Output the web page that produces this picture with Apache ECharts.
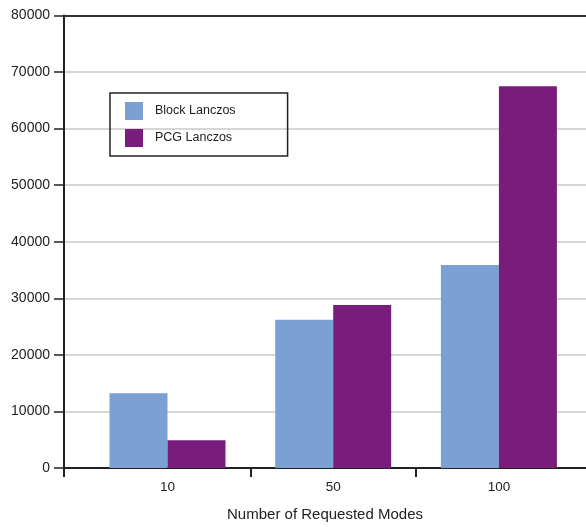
<!DOCTYPE html>
<html>
<head>
<meta charset="utf-8">
<script src="https://cdn.jsdelivr.net/npm/echarts@6/dist/echarts.min.js"></script>
<style>html,body{margin:0;padding:0;background:#fff}#c{width:586px;height:527px}</style>
</head>
<body>
<div id="c"></div>
<script>
var categories = ['10', '50', '100'];
var seriesNames = ['Block Lanczos', 'PCG Lanczos'];
var blockLanczos = [13200, 26200, 35900];
var pcgLanczos = [4900, 28800, 67500];
var yTicks = [0, 10000, 20000, 30000, 40000, 50000, 60000, 70000, 80000];
var xTitle = 'Number of Requested Modes';

var FONT = '"Liberation Sans", Arial, sans-serif';
var TXT = '#222';
var xMin = -0.6246, xMax = 2.5256;

function toPairs(arr) { return arr.map(function (v, i) { return [i, v]; }); }

var chart = echarts.init(document.getElementById('c'), null, {renderer: 'canvas'});
chart.setOption({
  animation: false,
  backgroundColor: '#fff',
  textStyle: {fontFamily: FONT, color: TXT},
  grid: {left: 64, right: 0, top: 15.5, bottom: 57, containLabel: false},
  legend: {
    orient: 'vertical', left: 110, top: 93,
    data: seriesNames,
    icon: 'rect', itemWidth: 18, itemHeight: 18, itemGap: 9,
    borderColor: '#222', borderWidth: 1.5,
    padding: [9, 52, 9, 15],
    textStyle: {fontFamily: FONT, fontSize: 12.5, color: TXT, padding: [0, 0, 0, 7]}
  },
  xAxis: [{
    type: 'value', min: xMin, max: xMax, position: 'bottom',
    name: xTitle, nameLocation: 'middle', nameGap: 39,
    nameTextStyle: {fontFamily: FONT, fontSize: 15, color: TXT},
    axisLine: {show: true, onZero: false, lineStyle: {color: '#222', width: 2}},
    axisTick: {show: true, length: 9, inside: false, customValues: [xMin, 0.5, 1.5], lineStyle: {color: '#222', width: 2}},
    axisLabel: {show: true, margin: 12, fontFamily: FONT, fontSize: 13.5, color: TXT,
      customValues: [0, 1, 2], formatter: function (v) { return categories[Math.round(v)]; }},
    splitLine: {show: false}
  }, {
    type: 'value', min: xMin, max: xMax, position: 'top',
    axisLine: {show: true, onZero: false, lineStyle: {color: '#333', width: 2}},
    axisTick: {show: false}, axisLabel: {show: false}, splitLine: {show: false}
  }],
  yAxis: {
    type: 'value', min: 0, max: 80000, interval: 10000,
    axisLine: {show: true, onZero: false, lineStyle: {color: '#222', width: 2}},
    axisTick: {show: true, length: 10, inside: false, lineStyle: {color: '#222', width: 1.5}},
    axisLabel: {margin: 14, fontFamily: FONT, fontSize: 14, color: TXT,
      formatter: function (v) { return String(v); }},
    splitLine: {show: true, lineStyle: {color: '#c8c8c8', width: 1.5}}
  },
  series: [{
    name: seriesNames[0], type: 'bar', xAxisIndex: 0,
    data: toPairs(blockLanczos), barWidth: 58, barGap: '0%',
    itemStyle: {color: '#7ba0d4'}
  }, {
    name: seriesNames[1], type: 'bar', xAxisIndex: 0,
    data: toPairs(pcgLanczos), barWidth: 58, barGap: '0%',
    itemStyle: {color: '#7a1c7b'}
  }]
});
</script>
</body>
</html>
